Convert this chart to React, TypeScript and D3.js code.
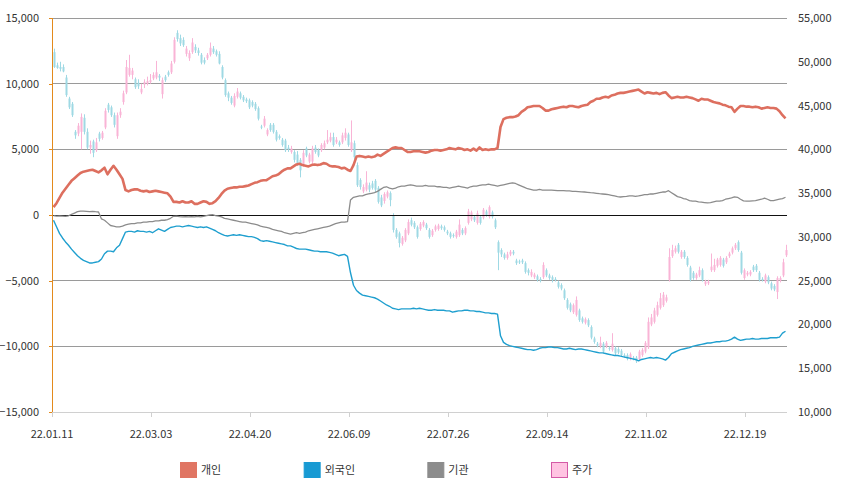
import { useEffect, useRef } from 'react'
import * as d3 from 'd3'

// x axis tick labels, one every 33 trading days
const tickLabels = ['22.01.11', '22.03.03', '22.04.20', '22.06.09', '22.07.26', '22.09.14', '22.11.02', '22.12.19']
const tickIndex = [0, 33, 66, 99, 132, 165, 198, 231]

// 개인 cumulative net buying
const individual = [
  600, 900, 1300, 1700, 2000, 2300, 2600, 2800, 3000, 3200, 3300, 3350, 3400, 3450, 3350, 3250, 3400, 3600, 3100, 3450,
  3750, 3450, 3100, 2750, 1900, 1800, 1900, 1950, 1950, 1850, 1800, 1850, 1750, 1800, 1850, 1800, 1750, 1700, 1650, 1400,
  1000, 1000, 950, 1050, 950, 950, 1050, 850, 850, 950, 1050, 1000, 850, 900, 1050, 1300, 1600, 1850, 2000, 2050,
  2100, 2100, 2150, 2150, 2200, 2250, 2350, 2450, 2500, 2600, 2650, 2650, 2800, 2950, 3000, 3100, 3300, 3450, 3550, 3550,
  3700, 3850, 3900, 3800, 3750, 3700, 3800, 3850, 3800, 3850, 3950, 3900, 3750, 3700, 3700, 3650, 3550, 3600, 3450, 3350,
  3800, 4450, 4500, 4450, 4400, 4450, 4400, 4450, 4600, 4500, 4650, 4800, 4950, 5100, 5150, 5100, 5100, 4950, 4800, 4800,
  4850, 4850, 4850, 4800, 4750, 4800, 4900, 4950, 4950, 4900, 4950, 5000, 5100, 5050, 5000, 5100, 5050, 4950, 5000, 4900,
  5050, 4900, 5150, 4950, 5000, 4950, 5000, 5000, 5100, 6700, 7300, 7400, 7450, 7450, 7500, 7600, 7850, 8000, 8200, 8250,
  8300, 8300, 8300, 8150, 7950, 7950, 8050, 8100, 8150, 8200, 8250, 8200, 8300, 8300, 8250, 8200, 8300, 8350, 8400, 8600,
  8700, 8850, 8850, 8950, 9000, 8950, 9100, 9150, 9250, 9300, 9300, 9350, 9400, 9450, 9500, 9550, 9400, 9250, 9350, 9300,
  9250, 9300, 9200, 9300, 9350, 9100, 8900, 8950, 9000, 8950, 8950, 9000, 8950, 8900, 8800, 8700, 8850, 8800, 8800, 8700,
  8600, 8550, 8500, 8400, 8350, 8250, 8200, 7850, 8100, 8300, 8300, 8250, 8250, 8200, 8250, 8200, 8100, 8150, 8200, 8150,
  8150, 8100, 7900, 7600, 7350,
]

// 외국인 cumulative net buying
const foreign = [
  -400, -900, -1400, -1750, -2050, -2300, -2600, -2850, -3100, -3300, -3450, -3550, -3650, -3650, -3600, -3550, -3350, -2950, -2750, -2750,
  -2800, -2500, -2300, -1800, -1300, -1250, -1250, -1300, -1200, -1250, -1250, -1300, -1250, -1350, -1200, -1050, -1150, -1250, -1100, -950,
  -900, -850, -850, -900, -850, -800, -850, -900, -950, -900, -950, -900, -1000, -1100, -1200, -1350, -1450, -1550, -1600, -1550,
  -1500, -1550, -1500, -1550, -1600, -1650, -1650, -1700, -1800, -1950, -2000, -1950, -2000, -2050, -2100, -2150, -2200, -2250, -2350, -2350,
  -2450, -2550, -2600, -2600, -2600, -2650, -2700, -2750, -2750, -2800, -2800, -2800, -2850, -2900, -3000, -3100, -3050, -3000, -3150, -4400,
  -5350, -5750, -5950, -6100, -6150, -6200, -6250, -6300, -6400, -6550, -6700, -6850, -6950, -7100, -7150, -7200, -7150, -7150, -7150, -7150,
  -7100, -7150, -7100, -7150, -7200, -7250, -7250, -7200, -7250, -7250, -7250, -7300, -7300, -7400, -7350, -7300, -7300, -7250, -7250, -7300,
  -7300, -7350, -7350, -7400, -7450, -7450, -7500, -7500, -7550, -9200, -9700, -9850, -9950, -10000, -10050, -10100, -10150, -10200, -10250, -10250,
  -10300, -10250, -10150, -10100, -10100, -10050, -10050, -10100, -10100, -10150, -10200, -10200, -10150, -10200, -10250, -10200, -10200, -10250, -10300, -10350,
  -10400, -10450, -10500, -10500, -10550, -10600, -10650, -10700, -10700, -10750, -10800, -10850, -10900, -10950, -11000, -11100, -11000, -10950, -10900, -10850,
  -10900, -10850, -10900, -10950, -11050, -10850, -10550, -10450, -10350, -10250, -10200, -10150, -10100, -10000, -9950, -9900, -9850, -9800, -9750, -9750,
  -9700, -9650, -9650, -9600, -9600, -9550, -9450, -9300, -9450, -9550, -9500, -9450, -9450, -9400, -9450, -9450, -9400, -9400, -9400, -9350,
  -9350, -9350, -9300, -9000, -8850,
]

// 기관 cumulative net buying
const institution = [
  -50, -80, -60, -80, -100, -60, 50, 150, 250, 300, 300, 280, 250, 280, 250, 230, -300, -400, -600, -800,
  -850, -900, -900, -850, -750, -700, -650, -650, -600, -600, -550, -550, -500, -500, -450, -450, -400, -400, -350, -250,
  -100, -80, -120, -150, -130, -150, -120, -150, -100, -150, -100, -50, 0, 20, -50, -80, -150, -250, -300, -350,
  -400, -450, -500, -550, -550, -600, -650, -700, -750, -850, -900, -950, -1000, -1100, -1150, -1200, -1250, -1350, -1400, -1450,
  -1400, -1350, -1400, -1350, -1300, -1200, -1150, -1100, -1050, -1000, -950, -900, -850, -750, -650, -600, -550, -550, -500, 1150,
  1350, 1400, 1450, 1450, 1550, 1600, 1650, 1700, 1800, 1950, 2100, 2150, 2050, 1980, 2050, 2150, 2200, 2200, 2250, 2300,
  2250, 2200, 2200, 2200, 2250, 2200, 2200, 2200, 2150, 2150, 2100, 2100, 2050, 2100, 2150, 2200, 2150, 2100, 2050, 2150,
  2200, 2200, 2250, 2300, 2300, 2350, 2300, 2250, 2200, 2250, 2300, 2350, 2400, 2450, 2400, 2300, 2200, 2100, 2000, 1950,
  1900, 1900, 1950, 1900, 1900, 1900, 1900, 1880, 1850, 1850, 1850, 1830, 1830, 1800, 1800, 1780, 1760, 1750, 1730, 1700,
  1680, 1650, 1620, 1600, 1580, 1550, 1500, 1450, 1400, 1370, 1400, 1420, 1450, 1450, 1420, 1450, 1500, 1550, 1550, 1600,
  1600, 1650, 1700, 1750, 1750, 1850, 1700, 1550, 1400, 1350, 1250, 1200, 1100, 1050, 1050, 1000, 980, 950, 920, 950,
  1000, 1050, 1050, 1100, 1200, 1250, 1300, 1380, 1350, 1200, 1080, 1050, 1050, 1080, 1100, 1150, 1200, 1280, 1200, 1100,
  1100, 1150, 1200, 1250, 1350,
]

// 주가 daily candles: [open, high, low, close]
const candles: [number, number, number, number][] = [
  [51100, 51500, 49300, 49400], [49600, 49900, 49200, 49300], [49400, 50000, 48900, 49200], [49400, 49700, 48800, 48900], [48200, 48500, 46000, 46200],
  [45800, 46000, 44600, 44800], [45200, 45400, 43700, 43900], [42000, 42200, 41200, 41600], [41800, 43000, 41500, 42700], [42000, 44100, 40000, 43700],
  [43600, 44000, 41700, 42000], [42000, 42400, 40000, 40200], [40200, 41000, 39500, 40500], [40900, 41100, 39100, 39600], [39900, 41300, 39700, 40800],
  [41800, 42000, 40900, 41200], [41300, 42100, 41100, 41900], [42500, 44700, 42300, 44400], [45100, 45300, 44200, 44500], [44800, 45000, 43700, 43900],
  [43900, 44200, 42500, 42800], [41500, 44200, 41200, 43900], [43900, 44700, 43600, 44300], [45400, 46700, 45100, 46400], [46500, 50200, 46300, 49400],
  [48500, 50800, 48300, 49300], [48500, 49300, 48000, 49000], [48000, 48200, 46900, 47100], [47600, 48000, 46900, 47200], [46500, 47500, 46300, 46900],
  [47400, 48000, 47000, 47700], [47500, 48300, 47300, 47800], [47700, 48600, 47500, 47900], [48100, 48800, 47900, 48500], [48200, 50100, 48000, 48800],
  [48400, 48600, 47800, 48200], [46300, 48200, 45800, 47900], [48300, 48500, 47700, 47900], [48800, 49000, 48300, 48500], [48800, 50100, 48600, 49800],
  [50000, 52800, 49800, 52500], [53300, 53600, 52300, 52600], [52700, 53100, 51800, 52100], [52500, 52800, 51700, 51900], [50900, 51800, 50600, 51500],
  [50400, 51300, 50100, 51000], [51100, 52700, 50900, 52200], [51700, 52000, 51000, 51300], [51300, 51600, 50700, 51000], [50800, 51000, 49700, 49900],
  [50200, 50500, 49700, 49900], [50400, 51000, 50200, 50800], [50800, 52200, 50600, 51600], [51500, 51800, 50900, 51100], [51200, 51400, 50600, 50800],
  [50900, 51200, 49700, 49800], [49400, 49600, 48000, 48200], [47900, 48100, 46000, 46200], [46400, 46600, 45500, 45900], [45900, 46100, 45100, 45300],
  [45000, 46400, 44800, 46100], [46000, 47000, 45800, 46600], [46400, 46600, 45700, 45900], [46000, 46200, 45400, 45600], [45700, 45900, 45300, 45500],
  [45600, 45800, 44600, 44800], [45400, 45600, 44800, 45000], [45200, 45400, 44400, 44600], [44700, 44900, 43300, 43500], [42600, 42800, 42300, 42500],
  [42700, 43800, 42500, 43500], [41700, 42400, 41500, 42200], [42800, 43000, 42000, 42200], [42800, 43000, 41800, 42000], [42000, 42200, 40900, 41100],
  [41500, 41700, 41100, 41300], [41100, 41300, 40300, 40500], [41000, 41200, 39700, 39900], [40200, 40500, 39700, 40000], [39700, 40400, 39500, 40100],
  [39700, 39900, 38500, 38800], [39400, 39800, 38100, 38300], [38800, 39000, 36800, 37600], [38300, 39900, 38000, 39600], [40100, 40300, 39100, 39300],
  [38600, 39600, 38400, 39400], [38600, 40400, 38300, 40100], [40200, 40500, 39500, 39700], [39900, 40100, 39100, 39300], [39900, 40700, 39700, 40500],
  [40200, 41000, 40000, 40700], [40800, 42200, 40600, 41100], [41000, 41900, 40800, 41400], [41400, 41900, 40300, 40500], [40800, 41400, 40600, 41100],
  [40800, 41000, 40300, 40500], [40800, 41900, 40600, 41600], [41300, 42400, 41000, 41900], [41700, 41900, 40300, 40500], [39900, 43300, 39700, 40800],
  [40700, 41000, 38900, 39100], [38200, 38500, 35700, 35900], [36500, 36700, 35400, 35700], [35200, 36000, 35000, 35700], [35400, 37500, 35200, 36200],
  [35900, 36200, 35100, 35400], [36100, 36400, 35400, 35600], [36400, 36600, 35100, 35400], [35600, 35800, 33800, 34000], [34500, 34800, 33400, 33600],
  [34100, 35100, 33800, 34900], [34600, 35300, 34400, 35100], [35000, 35200, 33500, 34200], [32500, 32700, 30500, 30800], [30800, 31000, 29800, 30000],
  [30400, 30600, 28800, 29300], [29200, 30100, 29000, 29900], [29600, 31000, 29400, 30800], [30400, 32000, 30200, 31700], [31900, 32200, 31200, 31400],
  [31600, 31800, 30900, 31100], [31100, 31300, 29800, 30000], [30900, 31700, 30700, 31500], [31300, 31900, 31100, 31700], [31400, 31600, 30800, 31000],
  [30800, 31000, 29800, 30000], [30200, 30900, 30000, 30700], [30800, 31400, 30600, 31200], [30900, 31500, 30700, 31300], [31200, 31400, 30800, 31000],
  [31100, 31300, 30600, 30800], [30600, 30800, 30200, 30400], [30400, 30600, 29800, 30000], [30200, 30400, 29900, 30100], [30000, 30800, 29800, 30600],
  [30200, 32000, 30000, 31400], [30800, 31000, 30200, 30400], [30400, 31200, 30200, 31000], [31600, 33200, 31400, 32900], [32000, 33000, 31800, 32800],
  [32300, 32500, 31700, 31900], [31600, 33000, 31400, 32700], [32300, 32500, 31400, 31600], [32200, 33300, 32000, 33100], [32900, 33100, 32300, 32500],
  [32300, 33600, 32100, 33400], [32800, 33000, 32100, 32300], [31900, 32100, 30900, 31100], [29400, 29600, 26200, 28200], [28500, 28700, 27700, 28000],
  [28000, 28200, 27400, 27600], [27600, 28300, 27400, 28000], [28000, 28500, 27800, 28300], [28300, 28500, 27900, 28100], [27300, 27500, 26800, 27000],
  [27200, 27400, 26900, 27100], [27300, 27500, 26900, 27100], [27000, 27200, 25800, 26000], [26200, 26400, 25600, 25900], [25600, 26300, 25400, 26000],
  [25400, 25900, 25200, 25700], [25500, 25700, 24900, 25100], [25200, 25400, 24800, 25000], [25400, 27100, 25200, 26800], [26200, 26400, 25400, 25600],
  [25600, 25800, 25100, 25300], [25400, 25600, 24800, 25100], [25200, 25400, 24900, 25100], [24800, 25000, 24100, 24300], [24500, 24700, 23900, 24100],
  [23900, 24100, 22800, 23000], [22800, 23000, 21700, 21900], [22300, 22500, 21400, 21600], [21400, 22400, 21200, 22200], [21100, 23200, 20900, 22800],
  [21600, 21800, 20300, 20500], [20700, 20900, 20100, 20300], [20200, 20800, 20000, 20600], [20500, 20700, 19700, 19900], [19700, 19900, 18300, 18500],
  [18400, 18600, 17800, 18000], [17800, 18000, 17400, 17600], [17500, 18600, 17300, 17900], [17800, 18000, 16700, 16900], [17500, 18100, 17300, 17900],
  [17300, 17500, 17000, 17200], [17100, 19000, 16900, 17800], [17300, 17500, 16500, 16700], [17200, 17400, 16600, 16800], [17000, 17200, 16300, 16500],
  [16500, 16700, 16200, 16400], [16500, 16700, 15900, 16100], [16100, 16800, 15900, 16600], [16200, 16400, 15900, 16100], [16200, 16400, 15600, 15800],
  [16000, 17100, 15800, 16900], [16500, 17300, 16300, 17100], [16900, 18100, 16700, 17900], [17400, 20800, 17200, 20300], [20000, 21200, 19800, 20800],
  [20300, 21900, 20100, 21600], [21100, 22600, 20900, 22200], [21900, 23600, 21700, 23000], [22200, 23700, 22000, 23400], [22700, 23400, 22500, 23100],
  [25100, 28700, 24900, 27700], [27800, 29100, 27600, 28500], [28300, 29000, 28100, 28700], [29100, 29300, 28100, 28300], [27700, 28500, 27500, 28300],
  [28300, 28500, 27500, 27700], [27600, 27800, 26600, 26800], [26500, 26700, 24900, 25100], [25900, 26100, 25100, 25300], [25300, 25900, 25100, 25700],
  [25600, 26600, 25400, 26200], [26200, 26400, 24900, 25100], [24600, 25100, 24400, 24900], [24700, 25100, 24500, 24900], [26200, 28100, 26000, 26600],
  [26200, 27500, 26000, 26800], [26700, 27600, 26500, 27400], [26800, 27800, 26600, 27600], [27400, 27600, 26500, 26700], [27100, 27800, 26900, 27600],
  [27800, 28300, 27600, 28100], [28200, 28900, 28000, 28700], [28700, 29300, 28500, 29100], [29400, 29600, 28300, 28500], [28200, 28400, 25700, 25900],
  [25300, 26400, 25100, 26200], [25700, 26100, 25500, 25900], [25700, 26200, 25500, 26000], [26600, 26800, 26000, 26200], [26700, 26900, 26000, 26200],
  [25900, 26100, 24900, 25100], [25200, 25400, 24900, 25100], [24900, 25800, 24700, 25600], [25400, 25600, 24600, 24800], [24700, 24900, 23900, 24100],
  [24400, 24600, 23800, 24000], [23700, 25500, 22900, 25300], [25000, 25500, 24800, 25300], [25600, 27500, 25400, 27100], [27900, 29100, 27700, 28500],
]

const legendItems = [
  { label: '개인', fill: '#e07563', stroke: '#e07563' },
  { label: '외국인', fill: '#189ad3', stroke: '#189ad3' },
  { label: '기관', fill: '#8c8c8c', stroke: '#8c8c8c' },
  { label: '주가', fill: '#ffc4e2', stroke: '#d45aa6' },
]

const WIDTH = 847
const HEIGHT = 495
const FONT = '"Noto Sans CJK KR", "Noto Sans", sans-serif'

export default function App() {
  const svgRef = useRef<SVGSVGElement>(null)

  useEffect(() => {
    if (!svgRef.current) return
    const svg = d3.select(svgRef.current)
    svg.selectAll('*').remove()

    const left = 52
    const right = 787
    const top = 18
    const bottom = 412

    const n = candles.length
    const x = d3.scaleBand<number>()
      .domain(d3.range(n))
      .range([left, right])
      .paddingInner(0)
    const bw = x.bandwidth()
    const cx = (i: number) => (x(i) as number) + bw / 2

    const yL = d3.scaleLinear().domain([-15000, 15000]).range([bottom, top])
    const yR = d3.scaleLinear().domain([10000, 55000]).range([bottom, top])

    // gridlines on left axis ticks
    const leftTicks = d3.range(-15000, 15001, 5000)
    svg.append('g')
      .selectAll('line')
      .data(leftTicks.filter(t => t !== -15000 && t !== 0))
      .join('line')
      .attr('x1', left)
      .attr('x2', right)
      .attr('y1', d => yL(d))
      .attr('y2', d => yL(d))
      .attr('stroke', '#9a9a9a')
      .attr('stroke-width', 1)
      .attr('shape-rendering', 'crispEdges')

    // bottom axis
    const xAxis = svg.append('g').attr('transform', `translate(0,${bottom})`)
    xAxis.append('line')
      .attr('x1', left).attr('x2', right)
      .attr('stroke', '#d0d0d0')
      .attr('shape-rendering', 'crispEdges')
    xAxis.selectAll('line.tick')
      .data(tickIndex)
      .join('line')
      .attr('class', 'tick')
      .attr('x1', d => Math.round(x(d) as number) + 0.5)
      .attr('x2', d => Math.round(x(d) as number) + 0.5)
      .attr('y1', 0).attr('y2', 5)
      .attr('stroke', '#d0d0d0')
    xAxis.selectAll('text')
      .data(tickIndex)
      .join('text')
      .attr('x', d => x(d) as number)
      .attr('y', 26)
      .attr('text-anchor', 'middle')
      .attr('font-size', 11)
      .attr('fill', '#333')
      .text((_, i) => tickLabels[i])

    // candles (주가)
    const up = '#f9b4d6'
    const down = '#9fd9e4'
    const cg = svg.append('g')
    cg.selectAll('line')
      .data(candles)
      .join('line')
      .attr('x1', (_, i) => Math.round(cx(i)) + 0.5)
      .attr('x2', (_, i) => Math.round(cx(i)) + 0.5)
      .attr('y1', d => yR(d[1]))
      .attr('y2', d => yR(d[2]))
      .attr('stroke', d => (d[3] >= d[0] ? up : down))
      .attr('stroke-width', 1)
    cg.selectAll('rect')
      .data(candles)
      .join('rect')
      .attr('x', (_, i) => Math.round(cx(i)) - 0.5)
      .attr('width', 2)
      .attr('y', d => yR(Math.max(d[0], d[3])))
      .attr('height', d => Math.max(1, Math.abs(yR(d[0]) - yR(d[3]))))
      .attr('fill', d => (d[3] >= d[0] ? up : down))

    // zero line
    svg.append('line')
      .attr('x1', left).attr('x2', right)
      .attr('y1', yL(0)).attr('y2', yL(0))
      .attr('stroke', '#111')
      .attr('stroke-width', 1)
      .attr('shape-rendering', 'crispEdges')

    // investor lines
    const line = d3.line<number>()
      .x((_, i) => cx(i))
      .y(d => yL(d))
    const series = [
      { data: institution, color: '#8c8c8c', width: 1.3 },
      { data: foreign, color: '#1f9fcf', width: 1.4 },
      { data: individual, color: '#dd6f5f', width: 2.6 },
    ]
    svg.append('g')
      .selectAll('path')
      .data(series)
      .join('path')
      .attr('d', d => line(d.data))
      .attr('fill', 'none')
      .attr('stroke', d => d.color)
      .attr('stroke-width', d => d.width)
      .attr('stroke-linejoin', 'round')

    // left axis
    const la = svg.append('g')
    la.append('line')
      .attr('x1', left + 0.5).attr('x2', left + 0.5)
      .attr('y1', top).attr('y2', bottom)
      .attr('stroke', '#e38a1c')
      .attr('stroke-width', 1)
    la.selectAll('line.tick')
      .data(leftTicks)
      .join('line')
      .attr('class', 'tick')
      .attr('x1', left - 3).attr('x2', left)
      .attr('y1', d => Math.round(yL(d)) + 0.5)
      .attr('y2', d => Math.round(yL(d)) + 0.5)
      .attr('stroke', '#e38a1c')
    la.selectAll('text')
      .data(leftTicks)
      .join('text')
      .attr('x', 39)
      .attr('y', d => yL(d) + 4)
      .attr('text-anchor', 'end')
      .attr('font-size', 11)
      .attr('fill', '#333')
      .text(d => d3.format(',')(d))

    // right axis labels
    const rightTicks = d3.range(10000, 55001, 5000)
    svg.append('g')
      .selectAll('text')
      .data(rightTicks)
      .join('text')
      .attr('x', 798)
      .attr('y', d => yR(d) + 4)
      .attr('font-size', 11)
      .attr('fill', '#333')
      .text(d => d3.format(',')(d))

    // legend
    const lg = svg.append('g')
    const lx = d3.scalePoint<string>()
      .domain(legendItems.map(d => d.label))
      .range([180, 551])
    const item = lg.selectAll('g')
      .data(legendItems)
      .join('g')
      .attr('transform', d => `translate(${lx(d.label)},462)`)
    item.append('rect')
      .attr('x', 0.5).attr('y', 0.5)
      .attr('width', 16).attr('height', 15)
      .attr('fill', d => d.fill)
      .attr('stroke', d => d.stroke)
    item.append('text')
      .attr('x', 21)
      .attr('y', 12)
      .attr('font-size', 11)
      .attr('fill', '#333')
      .text(d => d.label)
  }, [])

  return (
    <svg
      ref={svgRef}
      width={WIDTH}
      height={HEIGHT}
      style={{ position: 'absolute', left: 0, top: 0, background: '#fff', fontFamily: FONT }}
    />
  )
}
